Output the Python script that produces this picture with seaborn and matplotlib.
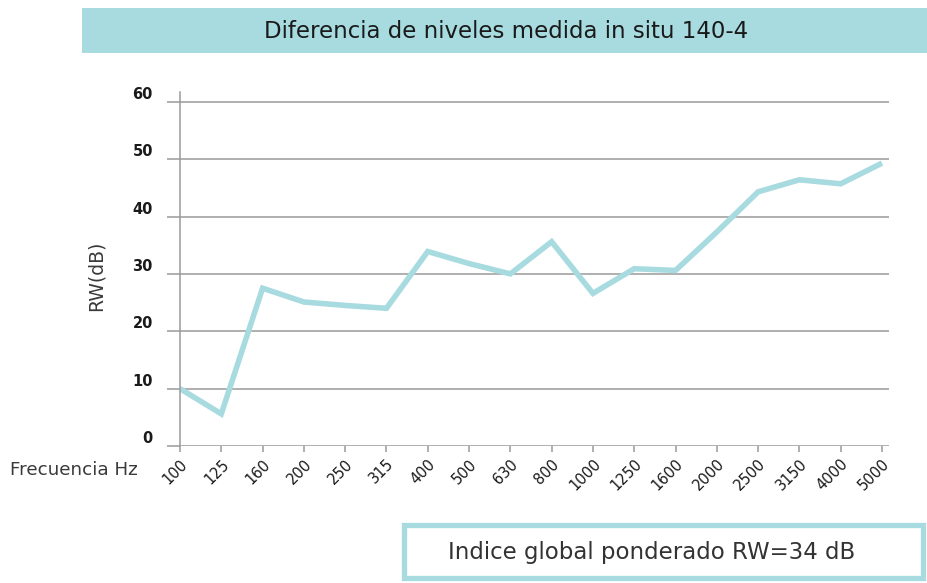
import numpy as np
import pandas as pd
import matplotlib
matplotlib.use("Agg")
import matplotlib.pyplot as plt
from matplotlib.patches import Rectangle
import seaborn as sns

# values
frecuencias = ["100", "125", "160", "200", "250", "315", "400", "500", "630",
               "800", "1000", "1250", "1600", "2000", "2500", "3150", "4000", "5000"]
rw_db = [10.0, 5.6, 27.5, 25.1, 24.5, 24.0, 33.9, 31.8, 30.0,
         35.6, 26.6, 30.9, 30.6, 37.3, 44.3, 46.4, 45.7, 49.3]
y_ticks = [0, 10, 20, 30, 40, 50, 60]

titulo = "Diferencia de niveles medida in situ 140-4"
indice = "Indice global ponderado RW=34 dB"

teal = "#a7dbe0"
grid_gray = "#9a9a9a"

sns.set_style("white")
plt.rcParams["font.family"] = ["DejaVu Sans"]

df = pd.DataFrame({"frecuencia": frecuencias, "rw": rw_db})

fig = plt.figure(figsize=(9.27, 5.83), dpi=100)
ax = fig.add_axes([180 / 927, (583 - 446) / 583, 709 / 927, 354 / 583])

sns.lineplot(data=df, x="frecuencia", y="rw", sort=False, color=teal,
             linewidth=4.0, ax=ax, solid_capstyle="butt", solid_joinstyle="miter")

ax.set_xlim(0, 17.17)
ax.set_ylim(0, 61.7)
ax.set_yticks(y_ticks)
ax.set_yticklabels([str(v) for v in y_ticks], fontsize=10.5, fontweight="semibold",
                   color="#1a1a1a")
for lab in ax.get_yticklabels():
    lab.set_verticalalignment("bottom")
ax.yaxis.grid(True, color=grid_gray, linewidth=1.1)
ax.set_axisbelow(True)
ax.tick_params(axis="y", left=True, length=9.5, width=1.1, color=grid_gray, pad=10,
               direction="out")
ax.tick_params(axis="x", bottom=True, length=4.5, width=1.1, color=grid_gray, pad=3,
               direction="out")

ax.set_xticks(range(len(frecuencias)))
ax.set_xticklabels(frecuencias, rotation=45, ha="right", va="top",
                   rotation_mode="anchor", fontsize=10.5, color="#1a1a1a")

for side in ["top", "right", "bottom"]:
    ax.spines[side].set_visible(False)
ax.spines["left"].set_color(grid_gray)
ax.spines["left"].set_linewidth(1.1)

ax.set_xlabel("")
ax.set_ylabel("")
fig.text(96 / 927, 1 - 276 / 583, "RW(dB)", fontsize=13.5, color="#3a3a3a",
         rotation=90, ha="center", va="center")
fig.text(10 / 927, 1 - 470 / 583, "Frecuencia Hz", fontsize=13.2, color="#3a3a3a",
         ha="left", va="center")

# title banner
fig.patches.append(Rectangle((82 / 927, 1 - 53 / 583), 1 - 82 / 927, 45 / 583,
                             transform=fig.transFigure, facecolor=teal,
                             edgecolor="none", zorder=0))
fig.text(506 / 927, 1 - 31 / 583, titulo, fontsize=16.5, fontweight="normal",
         color="#1a1a1a", ha="center", va="center")

# bottom box with the global index
fig.patches.append(Rectangle((403.5 / 927, 1 - 578 / 583), 519 / 927, 53 / 583,
                             transform=fig.transFigure, facecolor="white",
                             edgecolor=teal, linewidth=3.8, zorder=0))
fig.text(652 / 927, 1 - 553 / 583, indice, fontsize=16.5, color="#333333",
         ha="center", va="center")

fig.savefig("out.png", dpi=100)
